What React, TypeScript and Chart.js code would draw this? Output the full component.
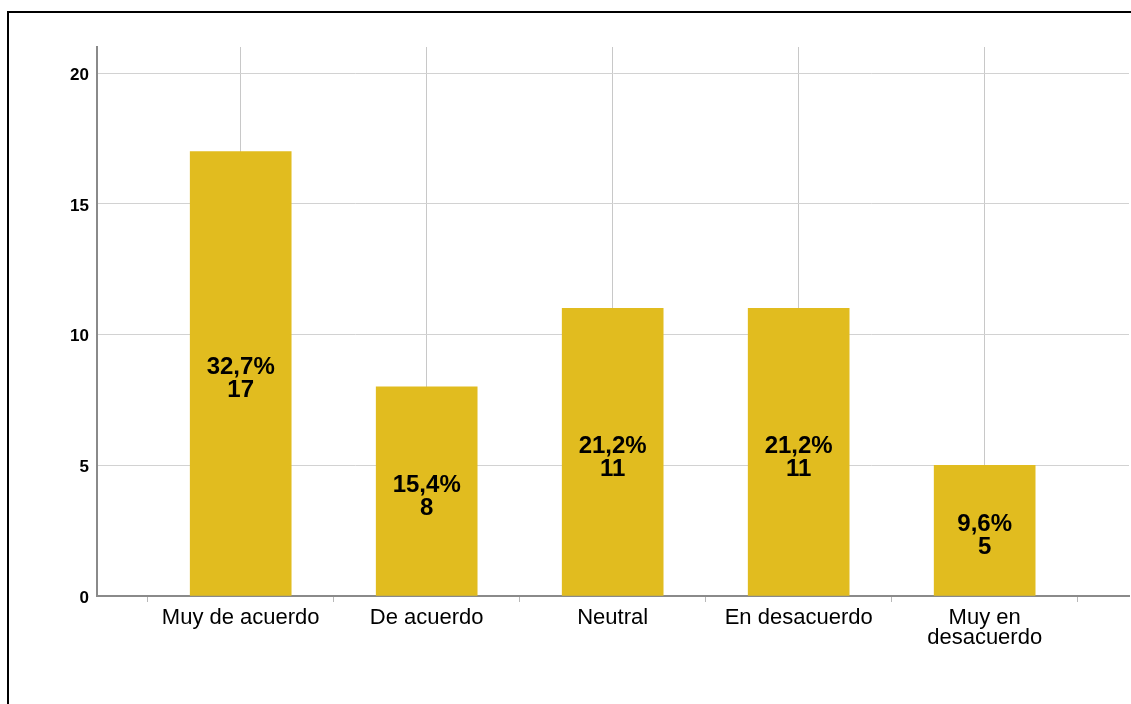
import React, { useEffect, useRef } from "react";
import { Chart, registerables } from "chart.js";

Chart.register(...registerables);

const categories = ["Muy de acuerdo", "De acuerdo", "Neutral", "En desacuerdo", "Muy en desacuerdo"];
const tickLabels: (string | string[])[] = ["Muy de acuerdo", "De acuerdo", "Neutral", "En desacuerdo", ["Muy en", "desacuerdo"]];
const counts = [17, 8, 11, 11, 5];
const percentLabels = ["32,7%", "15,4%", "21,2%", "21,2%", "9,6%"];
const yTicks = [0, 5, 10, 15, 20];

const BAR_COLOR = "#E1BC1F";
const FONT = "'Liberation Sans', Arial, sans-serif";

const barLabelPlugin = {
  id: "barLabels",
  afterDatasetsDraw(chart: any) {
    const ctx = chart.ctx;
    const meta = chart.getDatasetMeta(0);
    ctx.save();
    ctx.fillStyle = "#000";
    ctx.textAlign = "center";
    ctx.textBaseline = "middle";
    ctx.font = `bold 24px ${FONT}`;
    meta.data.forEach((el: any, i: number) => {
      const cy = (el.y + el.base) / 2 + 6;
      ctx.fillText(percentLabels[i], el.x, cy - 12);
      ctx.fillText(String(counts[i]), el.x, cy + 11);
    });
    ctx.restore();
  },
};

export default function App() {
  const ref = useRef<HTMLCanvasElement | null>(null);

  useEffect(() => {
    if (!ref.current) return;
    const chart = new Chart(ref.current, {
      type: "bar",
      data: {
        datasets: [
          {
            label: "Frecuencia",
            data: counts.map((c, i) => ({ x: i, y: c })),
            backgroundColor: BAR_COLOR,
            borderWidth: 0,
            barThickness: 101,
          },
        ],
      },
      options: {
        animation: false,
        responsive: false,
        maintainAspectRatio: false,
        layout: { padding: { top: 47, right: 2, left: 0, bottom: 0 } },
        plugins: { legend: { display: false }, tooltip: { enabled: false } },
        scales: {
          x: {
            type: "linear",
            offset: false,
            min: -0.7726,
            max: 4.776,
            afterBuildTicks(scale: any) {
              const t: { value: number }[] = [];
              categories.forEach((_, i) => {
                t.push({ value: i - 0.5 });
                t.push({ value: i });
              });
              t.push({ value: categories.length - 0.5 });
              scale.ticks = t;
            },
            afterFit(scale: any) {
              scale.height = 108;
            },
            border: { display: true, color: "#8a8a8a", width: 2 },
            grid: {
              offset: false,
              drawTicks: true,
              tickLength: 6,
              color: (c: any) => (c.tick && Number.isInteger(c.tick.value) ? "#c8c8c8" : "rgba(0,0,0,0)"),
              tickColor: (c: any) => (c.tick && Number.isInteger(c.tick.value) ? "rgba(0,0,0,0)" : "#b8b8b8"),
              lineWidth: 1,
            },
            ticks: {
              autoSkip: false,
              maxRotation: 0,
              minRotation: 0,
              padding: 5,
              color: "#000",
              font: { family: FONT, size: 22, lineHeight: 0.95 },
              callback: (v: any) => (Number.isInteger(v) ? tickLabels[v] : ""),
            },
          },
          y: {
            min: 0,
            max: 21,
            afterBuildTicks(scale: any) {
              scale.ticks = yTicks.map((v) => ({ value: v }));
            },
            afterFit(scale: any) {
              scale.width = 97;
            },
            border: { display: true, color: "#8a8a8a", width: 2 },
            grid: { drawTicks: false, color: "#d2d2d2", lineWidth: 1 },
            ticks: {
              padding: 8,
              labelOffset: 2,
              color: "#000",
              font: { family: FONT, size: 17, weight: "bold" },
            },
          },
        },
      },
      plugins: [barLabelPlugin],
    } as any);
    return () => chart.destroy();
  }, []);

  return (
    <div>
      <div
        style={{
          position: "fixed",
          left: 7,
          top: 11,
          width: 1124,
          height: 693,
          borderLeft: "2px solid #000",
          borderTop: "2px solid #000",
          boxSizing: "border-box",
        }}
      />
      <canvas
        ref={ref}
        width={1131}
        height={704}
        style={{ position: "fixed", left: 0, top: 0, width: 1131, height: 704 }}
      />
    </div>
  );
}
